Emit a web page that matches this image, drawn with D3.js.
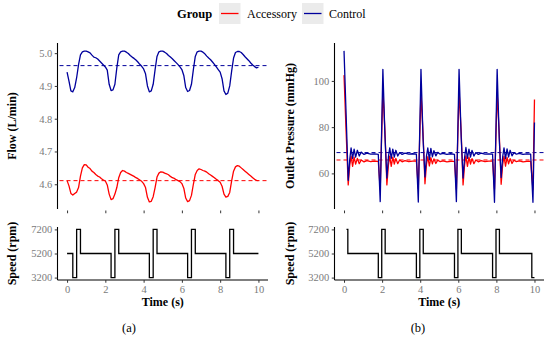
<!DOCTYPE html>
<html><head><meta charset="utf-8">
<script src="https://cdn.jsdelivr.net/npm/d3@7"></script>
<style>
body{margin:0;background:#fff;}
svg{display:block;}
svg text{font-family:"Liberation Serif","Times New Roman",serif !important;}
</style></head>
<body><svg id="c" width="550" height="337"></svg>
<script>
// ---------------- DATA ----------------
const groups = ["Accessory", "Control"];
const groupColors = ["#ff0000", "#00009c"];
const timeTicks = [0, 2, 4, 6, 8, 10];
const flowTicks = [4.6, 4.7, 4.8, 4.9, 5.0];
const pressureTicks = [60, 80, 100];
const speedTicks = [3200, 5200, 7200];

const flowTime = [0,0.1,0.2,0.3,0.4,0.5,0.6,0.7,0.8,0.9,1,1.1,1.2,1.3,1.4,1.5,1.6,1.7,1.8,1.9,2,2.1,2.2,2.3,2.4,2.5,2.6,2.7,2.8,2.9,3,3.1,3.2,3.3,3.4,3.5,3.6,3.7,3.8,3.9,4,4.1,4.2,4.3,4.4,4.5,4.6,4.7,4.8,4.9,5,5.1,5.2,5.3,5.4,5.5,5.6,5.7,5.8,5.9,6,6.1,6.2,6.3,6.4,6.5,6.6,6.7,6.8,6.9,7,7.1,7.2,7.3,7.4,7.5,7.6,7.7,7.8,7.9,8,8.1,8.2,8.3,8.4,8.5,8.6,8.7,8.8,8.9,9,9.1,9.2,9.3,9.4,9.5,9.6,9.7,9.8,9.9,10];
const flowControl = [4.942,4.915,4.885,4.882,4.895,4.925,4.965,4.995,5.004,5.006,5.006,5.004,5.001,4.994,4.988,4.986,4.982,4.976,4.970,4.964,4.958,4.948,4.905,4.886,4.888,4.905,4.955,4.995,5.004,5.006,5.006,5.003,4.999,4.993,4.988,4.984,4.979,4.973,4.966,4.960,4.952,4.937,4.900,4.882,4.885,4.905,4.950,4.990,5.004,5.006,5.006,5.003,4.999,4.993,4.988,4.983,4.977,4.971,4.965,4.958,4.950,4.932,4.895,4.883,4.886,4.905,4.950,4.990,5.004,5.006,5.006,5.003,4.998,4.991,4.985,4.980,4.973,4.966,4.958,4.950,4.942,4.922,4.885,4.874,4.878,4.900,4.945,4.985,5.002,5.005,5.005,5.002,4.996,4.989,4.983,4.977,4.970,4.964,4.959,4.955,4.957];
const flowAccessory = [4.611,4.595,4.572,4.567,4.572,4.576,4.590,4.625,4.650,4.660,4.659,4.652,4.648,4.640,4.636,4.630,4.625,4.622,4.617,4.613,4.610,4.598,4.570,4.553,4.556,4.570,4.590,4.620,4.636,4.642,4.640,4.636,4.633,4.630,4.627,4.624,4.620,4.617,4.613,4.609,4.602,4.590,4.560,4.546,4.548,4.562,4.590,4.622,4.634,4.638,4.637,4.634,4.632,4.629,4.624,4.620,4.618,4.614,4.611,4.608,4.602,4.588,4.558,4.547,4.550,4.566,4.600,4.630,4.642,4.647,4.645,4.642,4.640,4.637,4.632,4.628,4.624,4.620,4.615,4.611,4.606,4.594,4.570,4.561,4.563,4.575,4.610,4.640,4.653,4.657,4.655,4.650,4.645,4.640,4.635,4.630,4.625,4.620,4.615,4.612,4.611];
const flowMeans = [4.611, 4.962];

const pressureTime = [0.00,0.10,0.22,0.30,0.37,0.45,0.53,0.61,0.70,0.80,0.90,1.05,1.20,1.40,1.60,
 1.80,1.90,2.04,2.15,2.25,2.33,2.40,2.48,2.56,2.64,2.72,2.82,2.92,3.05,3.20,3.40,3.60,
 3.80,3.90,4.04,4.15,4.25,4.33,4.40,4.48,4.56,4.64,4.72,4.82,4.92,5.05,5.20,5.40,5.60,
 5.80,5.90,6.04,6.15,6.25,6.33,6.40,6.48,6.56,6.64,6.72,6.82,6.92,7.05,7.20,7.40,7.60,
 7.80,7.90,8.04,8.15,8.25,8.33,8.40,8.48,8.56,8.64,8.72,8.82,8.92,9.05,9.20,9.40,9.60,
 9.80,9.92,10.00];
const pressureControl = [113,88,57,66,71,66.5,70.5,67,70,67.5,69.2,68.2,68.8,68.3,68.4,
 68.2,47.8,105,76,58,67,71,66.5,70.5,67,70,67.5,69,68.2,68.8,68.3,68.5,
 68.3,47.6,105,75,58.5,67.5,71,66,70.8,67.2,69.8,67.6,69.1,68.3,68.7,68.2,68.5,
 68.2,47.8,105,76,58,66.8,71.2,66.5,70.5,67,69.9,67.5,69,68.2,68.8,68.3,68.4,
 68.3,47.5,105,75,58.2,67.2,71,66.4,70.6,67.1,70,67.6,69,68.3,68.7,68.2,68.4,
 68.3,47.5,82];
const pressureAccessory = [102.5,80,55,63.5,67.5,63,67,64,66.5,64.2,65.8,65,65.5,65.1,65.3,
 65.2,53,96,78,55,63.5,67.5,63,67,64,66.5,64.2,65.8,65,65.5,65.1,65.3,
 65.3,53.5,95,77,55.5,64,67.2,63.2,66.8,64.1,66.3,64.3,65.7,65.1,65.4,65,65.2,
 65.2,53,96,78,55,63.7,67.6,63,67,64,66.4,64.2,65.8,65,65.5,65.1,65.3,
 65.3,53.2,95,77,55.3,63.8,67.4,63.1,66.9,64.1,66.4,64.3,65.7,65.1,65.4,65,65.2,
 65.2,53,92];
const pressureMeans = [65.8, 69.0];

const speedTimeA = [0,0.3,0.5,0.7,2.3,2.5,2.7,4.3,4.5,4.7,6.3,6.5,6.7,8.3,8.5,8.7,10];
const speedA = [5200,3200,7200,5200,3200,7200,5200,3200,7200,5200,3200,7200,5200,3200,7200,5200,5200];
const speedTimeB = [0.13,0.2,1.8,1.98,2.16,3.8,3.98,4.16,5.8,5.98,6.16,7.8,7.98,8.16,9.86,10];
const speedB = [7200,5200,3200,7200,5200,3200,7200,5200,3200,7200,5200,3200,7200,5200,3200,3200];

// ---------------- DRAW ----------------
const svg = d3.select("#c");
const tickCol = "#7a7a7a";

function panel(opts){
  const {x0,x1,yTop,yBot,xs,ys,yTicks,yFmt,showX,title,titleX} = opts;
  const g = svg.append("g");
  const ay = g.append("g").attr("transform",`translate(${x0},0)`)
    .call(d3.axisLeft(ys).tickValues(yTicks).tickFormat(yFmt).tickSize(2.75).tickPadding(2.5));
  ay.select(".domain").attr("stroke","#000").attr("stroke-width",1.1).attr("d",`M0,${yTop}V${yBot}`);
  ay.selectAll(".tick line").attr("stroke","#333");
  ay.selectAll(".tick text").attr("fill",tickCol).style("font-size","10.5px");
  const ax = g.append("g").attr("transform",`translate(0,${yBot})`)
    .call(d3.axisBottom(xs).tickValues(timeTicks).tickSize(2.75).tickPadding(2.5).tickFormat(showX? d3.format("d") : ""));
  if(showX){
    ax.select(".domain").attr("stroke","#000").attr("stroke-width",1.1).attr("d",`M${x0},0H${x1}`);
  } else {
    ax.select(".domain").remove();
    ax.attr("transform",`translate(0,${yBot+1.5})`);
  }
  ax.selectAll(".tick line").attr("stroke","#333");
  ax.selectAll(".tick text").attr("fill",tickCol).style("font-size","10.5px");
  svg.append("text").attr("transform",`translate(${titleX},${(yTop+yBot)/2}) rotate(-90)`)
    .attr("text-anchor","middle").attr("dominant-baseline","central")
    .attr("font-weight","bold").attr("font-size","12px").text(title);
  return g;
}

function drawSide(cfg){
  const {x0,x1,titleX,topTitle,topData,topTicks,topFmt,topDomain,means,sTime,sVal,cx} = cfg;
  const xs = d3.scaleLinear().domain([-0.5,10.5]).range([x0,x1]);
  const ys = d3.scaleLinear().domain(topDomain).range([209,43]);
  const ysp = d3.scaleLinear().domain([3000,7400]).range([280,227]);
  panel({x0,x1,yTop:43,yBot:209,xs,ys,yTicks:topTicks,yFmt:topFmt,showX:false,title:topTitle,titleX});
  panel({x0,x1,yTop:227,yBot:280,xs,ys:ysp,yTicks:speedTicks,yFmt:d3.format("d"),showX:true,title:"Speed (rpm)",titleX});
  const g = svg.append("g");
  means.forEach((m,i)=>{
    g.append("line").attr("x1",x0+2).attr("x2",x1).attr("y1",ys(m)).attr("y2",ys(m))
      .attr("stroke",groupColors[i]).attr("stroke-width",1).attr("stroke-dasharray","4,3");
  });
  const line = d3.line().x(d=>xs(d[0])).y(d=>ys(d[1]));
  topData.forEach((s,i)=>{
    g.append("path").attr("d",line(s.t.map((t,j)=>[t,s.v[j]])))
      .attr("fill","none").attr("stroke",groupColors[i]).attr("stroke-width",1.3).attr("stroke-linejoin","round");
  });
  const sline = d3.line().x(d=>xs(d[0])).y(d=>ysp(d[1])).curve(d3.curveStepAfter);
  g.append("path").attr("d",sline(sTime.map((t,j)=>[t,sVal[j]])))
    .attr("fill","none").attr("stroke","#000").attr("stroke-width",1.3);
  svg.append("text").attr("x",(xs(0)+xs(10))/2).attr("y",306).attr("text-anchor","middle")
    .attr("font-weight","bold").attr("font-size","12px").text("Time (s)");
  svg.append("text").attr("x",cx).attr("y",332).attr("text-anchor","middle")
    .attr("font-size","12.5px").text(cfg.cap);
}

drawSide({x0:57.5,x1:268,titleX:12,topTitle:"Flow (L/min)",
  topData:[{t:flowTime,v:flowAccessory},{t:flowTime,v:flowControl}],
  topTicks:flowTicks,topFmt:d3.format(".1f"),topDomain:[4.5245,5.031],means:flowMeans,
  sTime:speedTimeA,sVal:speedA,cx:129,cap:"(a)"});
drawSide({x0:334.5,x1:544,titleX:290,topTitle:"Outlet Pressure (mmHg)",
  topData:[{t:pressureTime,v:pressureAccessory},{t:pressureTime,v:pressureControl}],
  topTicks:pressureTicks,topFmt:d3.format("d"),topDomain:[44.6,116.4],means:pressureMeans,
  sTime:speedTimeB,sVal:speedB,cx:418,cap:"(b)"});

const lg = svg.append("g");
lg.append("text").attr("x",177).attr("y",18).attr("font-weight","bold").attr("font-size","12.5px").text("Group");
const keyX = [219, 302], textX = [247, 329];
groups.forEach((gname,i)=>{
  lg.append("rect").attr("x",keyX[i]).attr("y",3).attr("width",21.5).attr("height",21).attr("fill","#ebebeb");
  lg.append("line").attr("x1",keyX[i]+2).attr("x2",keyX[i]+19.5).attr("y1",13.5).attr("y2",13.5)
    .attr("stroke",groupColors[i]).attr("stroke-width",1.3);
  lg.append("text").attr("x",textX[i]).attr("y",18).attr("font-size","12px").text(gname);
});
</script></body></html>
